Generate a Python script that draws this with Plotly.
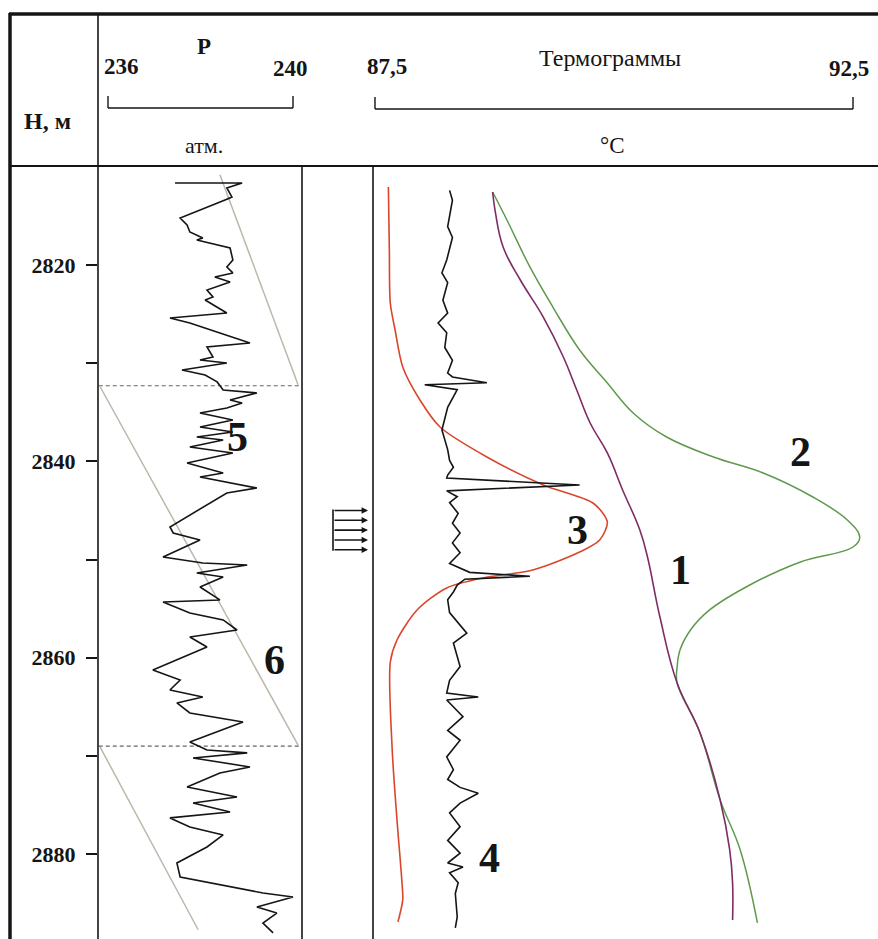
import plotly.graph_objects as go

# ---------------- data ----------------
# depth scale (m)
depth_ticks = [2820, 2830, 2840, 2850, 2860, 2870, 2880]
depth_ticktext = ["2820", "", "2840", "", "2860", "", "2880"]

# pressure log P (atm) vs depth
p_depth = [2811.65, 2811.65, 2812.16, 2813.08, 2813.38, 2815.21, 2815.93, 2816.64, 2817.25, 2817.45,
           2818.27, 2819.49, 2820.20, 2820.81, 2821.22, 2821.73, 2822.55, 2823.26, 2823.56, 2824.89,
           2825.40, 2825.91, 2827.94, 2828.35, 2829.37, 2829.67, 2829.98, 2830.69, 2831.20, 2831.91,
           2832.73, 2833.03, 2833.75, 2834.05, 2834.56, 2835.07, 2835.78, 2836.50, 2837.01, 2837.52,
           2837.82, 2838.53, 2839.14, 2840.16, 2841.18, 2841.59, 2842.71, 2843.22, 2846.68, 2847.29,
           2848.00, 2849.74, 2850.35, 2850.55, 2851.36, 2851.77, 2852.79, 2854.11, 2854.32, 2855.44,
           2856.15, 2857.17, 2857.88, 2858.90, 2861.24, 2862.26, 2863.28, 2863.99, 2864.60, 2865.62,
           2866.54, 2868.57, 2869.39, 2869.69, 2870.20, 2871.12, 2871.73, 2873.16, 2874.18, 2874.79,
           2875.70, 2876.31, 2877.23, 2878.04, 2879.27, 2880.90, 2882.32, 2883.95, 2884.36, 2885.38,
           2886.00, 2887.01, 2888.02]
p_value = [237.45, 238.90, 238.57, 238.68, 238.53, 237.56, 237.71, 237.77, 238.05, 237.92,
           238.64, 238.70, 238.57, 238.70, 238.31, 238.64, 238.14, 238.27, 238.10, 238.57,
           237.34, 237.77, 239.07, 238.14, 238.27, 237.99, 238.57, 237.60, 238.10, 238.36,
           238.49, 239.22, 238.64, 238.90, 238.57, 237.99, 238.70, 237.99, 238.70, 237.92,
           238.49, 237.77, 238.70, 237.71, 238.49, 237.99, 239.22, 238.57, 237.34, 237.41,
           237.99, 237.19, 238.05, 239.01, 237.92, 238.49, 237.99, 238.42, 237.19, 237.77,
           238.49, 238.79, 237.77, 238.14, 236.97, 237.56, 237.34, 238.05, 237.49, 237.77,
           238.92, 237.77, 238.14, 239.01, 237.84, 239.07, 238.42, 237.71, 238.79, 237.84,
           238.64, 237.34, 237.77, 238.49, 238.14, 237.49, 237.56, 239.35, 240.00, 239.22,
           239.65, 239.35, 239.57]

# hydrostatic gradient segments (6) and interval boundaries
grad_depth = [2810.8, 2832.2, None, 2832.4, 2868.9, None, 2869.1, 2887.7]
grad_p = [238.42, 240.11, None, 235.83, 240.11, None, 235.83, 237.95]
boundary_depths = [2832.3, 2869.0]

# thermogram 1 (background)
t1_depth = [2812.57, 2814.70, 2818.17, 2821.53, 2825.30, 2829.37, 2832.73, 2836.09, 2839.14, 2842.91,
            2846.99, 2849.74, 2855.85, 2862.57, 2867.66, 2874.48, 2879.57, 2882.93, 2886.70]
t1_temp = [88.73, 88.76, 88.84, 89.02, 89.26, 89.47, 89.61, 89.75, 89.93, 90.09,
           90.27, 90.35, 90.48, 90.66, 90.90, 91.11, 91.21, 91.24, 91.24]

# thermogram 2
t2_depth = [2812.57, 2815.42, 2820.20, 2824.28, 2828.66, 2832.02, 2835.07, 2837.52, 2839.55, 2841.18,
            2843.63, 2845.97, 2847.70, 2848.72, 2850.24, 2852.59, 2855.13, 2857.17, 2859.21, 2860.94,
            2862.57, 2867.66, 2874.48, 2879.57, 2887.00]
t2_temp = [88.73, 88.88, 89.12, 89.36, 89.64, 89.93, 90.20, 90.55, 91.04, 91.56,
           92.08, 92.44, 92.57, 92.50, 91.95, 91.42, 91.00, 90.80, 90.69, 90.66,
           90.66, 90.90, 91.11, 91.32, 91.50]

# thermogram 3
t3_depth = [2812.06, 2818.47, 2823.87, 2826.62, 2830.39, 2833.75, 2836.50, 2839.55, 2842.40, 2844.24,
            2846.17, 2848.00, 2849.23, 2851.06, 2851.87, 2852.89, 2855.13, 2858.19, 2860.43, 2869.39,
            2876.52, 2882.63, 2884.66, 2886.90]
t3_temp = [87.64, 87.65, 87.66, 87.71, 87.79, 87.97, 88.18, 88.67, 89.26, 89.78,
           89.93, 89.85, 89.64, 89.15, 88.63, 88.25, 87.94, 87.73, 87.66, 87.68,
           87.73, 87.78, 87.79, 87.74]

# thermogram 4
t4_depth = [2812.4, 2813.4, 2816.1, 2817.2, 2819.5, 2820.8, 2821.8, 2823.6, 2824.9, 2825.9,
            2826.9, 2828.4, 2829.7, 2831.0, 2831.4, 2832.0, 2832.2, 2832.7, 2834.5, 2836.8,
            2838.8, 2839.9, 2840.6, 2841.4, 2841.7, 2842.4, 2843.0, 2843.6, 2844.2, 2845.3,
            2846.3, 2847.3, 2848.3, 2849.3, 2850.4, 2851.3, 2851.7, 2852.0, 2852.6, 2853.3,
            2854.1, 2855.4, 2857.5, 2858.5, 2860.9, 2862.3, 2863.6, 2864.0, 2864.3, 2866.0,
            2867.4, 2868.4, 2870.1, 2871.4, 2872.4, 2873.2, 2873.8, 2874.8, 2875.8, 2877.2,
            2878.6, 2879.9, 2880.9, 2881.3, 2881.9, 2882.9, 2884.0, 2886.4, 2887.5]
t4_temp = [88.28, 88.31, 88.26, 88.31, 88.25, 88.20, 88.26, 88.21, 88.26, 88.16,
           88.25, 88.23, 88.31, 88.26, 88.31, 88.67, 88.02, 88.36, 88.26, 88.20,
           88.26, 88.28, 88.32, 88.26, 88.25, 89.64, 88.25, 88.36, 88.28, 88.37,
           88.31, 88.39, 88.31, 88.39, 88.28, 88.49, 89.12, 88.44, 88.36, 88.32,
           88.26, 88.28, 88.46, 88.32, 88.39, 88.28, 88.25, 88.58, 88.25, 88.42,
           88.26, 88.39, 88.25, 88.32, 88.26, 88.39, 88.58, 88.39, 88.28, 88.39,
           88.26, 88.39, 88.26, 88.42, 88.28, 88.37, 88.34, 88.36, 88.34]

# inflow interval (arrows)
inflow_depths = [2845.0, 2846.0, 2847.0, 2848.0, 2849.0]

# curve number labels: (text, axis, x value, depth)
curve_labels = [("5", "x", 238.81, 2837.5), ("6", "x", 239.61, 2860.2),
                ("3", "x2", 89.62, 2847.0), ("1", "x2", 90.69, 2851.1),
                ("2", "x2", 91.95, 2839.0), ("4", "x2", 88.70, 2880.4)]

# ---------------- layout geometry (pixels of the 878x939 page) ----------------
W, H = 878, 939
def px(x):
    return x / W
def py(y):
    return 1 - y / H

SERIF = "Liberation Serif"
INK = "#151515"

fig = go.Figure()

# pressure column
fig.add_trace(go.Scatter(x=grad_p, y=grad_depth, mode="lines", xaxis="x", yaxis="y",
                         line=dict(color="#b9b9ab", width=1.5), hoverinfo="skip"))
for bd in boundary_depths:
    fig.add_trace(go.Scatter(x=[235.80, 240.19], y=[bd, bd], mode="lines", xaxis="x", yaxis="y",
                             line=dict(color="#666666", width=1.2, dash="4px,3px"), hoverinfo="skip"))
fig.add_trace(go.Scatter(x=p_value, y=p_depth, mode="lines", xaxis="x", yaxis="y",
                         line=dict(color=INK, width=1.6)))

# thermograms
fig.add_trace(go.Scatter(x=t3_temp, y=t3_depth, mode="lines", xaxis="x2", yaxis="y",
                         line=dict(color="#d9462b", width=1.6, shape="spline", smoothing=0.8)))
fig.add_trace(go.Scatter(x=t4_temp, y=t4_depth, mode="lines", xaxis="x2", yaxis="y",
                         line=dict(color=INK, width=1.6)))
fig.add_trace(go.Scatter(x=t2_temp, y=t2_depth, mode="lines", xaxis="x2", yaxis="y",
                         line=dict(color="#5f9a4c", width=1.5, shape="spline", smoothing=1.1)))
fig.add_trace(go.Scatter(x=t1_temp, y=t1_depth, mode="lines", xaxis="x2", yaxis="y",
                         line=dict(color="#7e2c66", width=1.6, shape="spline", smoothing=1.2)))

annotations = []
# curve numbers
for txt, ax_name, xv, dv in curve_labels:
    annotations.append(dict(text=txt, x=xv, y=dv, xref=ax_name, yref="y", showarrow=False,
                            font=dict(family=SERIF, size=42, color=INK, weight="bold")))

# inflow arrows
for d in inflow_depths:
    annotations.append(dict(text="", x=px(368), y=d, xref="paper", yref="y",
                            ax=-35, ay=0, showarrow=True, arrowhead=2, arrowsize=0.8,
                            arrowwidth=1.6, arrowcolor=INK))

# header text
def head(text, x, y, size=21, bold=False):
    annotations.append(dict(text=text, x=px(x), y=py(y), xref="paper", yref="paper",
                            showarrow=False, xanchor="center", yanchor="middle",
                            font=dict(family=SERIF, size=size, color=INK,
                                      weight="bold" if bold else "normal")))

head("Н, м", 47, 121, 24, True)
head("P", 204, 47, 23, True)
head("236", 121, 67, 23, True)
head("240", 290, 69, 23, True)
head("атм.", 204, 145, 22, False)
head("87,5", 387, 67, 23, True)
head("Термограммы", 610, 58, 24, False)
head("92,5", 849, 69, 23, True)
head("°C", 612, 145, 23, False)

shapes = []
def line(x0, y0, x1, y1, w=1.5, color=INK):
    shapes.append(dict(type="line", xref="paper", yref="paper",
                       x0=px(x0), y0=py(y0), x1=px(x1), y1=py(y1),
                       line=dict(color=color, width=w)))

# table frame
line(9, 14, 878, 14, 3.5)
line(10, 13, 10, 939, 3.5)
line(10, 166, 878, 166, 2)
line(98, 14, 98, 939, 1.6)
line(302, 166, 302, 939, 1.6)
line(373, 166, 373, 939, 1.6)

# scale bars
line(108, 108, 293, 108, 1.4)
line(108, 96, 108, 108, 1.4)
line(293, 96, 293, 108, 1.4)
line(375, 109, 853, 109, 1.4)
line(375, 97, 375, 109, 1.4)
line(853, 97, 853, 109, 1.4)

# inflow arrow stem
shapes.append(dict(type="line", xref="paper", yref="y", x0=px(333), x1=px(333),
                   y0=inflow_depths[0] - 0.1, y1=inflow_depths[-1] + 0.1,
                   line=dict(color=INK, width=1.6)))

fig.update_layout(
    width=W, height=H,
    margin=dict(l=0, r=0, t=0, b=0),
    paper_bgcolor="white", plot_bgcolor="rgba(0,0,0,0)",
    showlegend=False,
    xaxis=dict(domain=[px(98), px(302)], range=[235.784, 240.195], visible=False,
               anchor="y", fixedrange=True),
    xaxis2=dict(domain=[px(373), 1], range=[87.479, 92.761], visible=False,
                anchor="y", fixedrange=True),
    yaxis=dict(domain=[0, py(166)], range=[2888.64, 2809.92], anchor="x",
               tickvals=depth_ticks, ticktext=depth_ticktext,
               ticks="outside", ticklen=11, tickwidth=1.5, tickcolor=INK,
               ticklabelstandoff=6,
               tickfont=dict(family=SERIF, size=22, color=INK, weight="bold"),
               showgrid=False, zeroline=False, showline=False, fixedrange=True),
    annotations=annotations,
    shapes=shapes,
)

fig.write_html("out.html")
